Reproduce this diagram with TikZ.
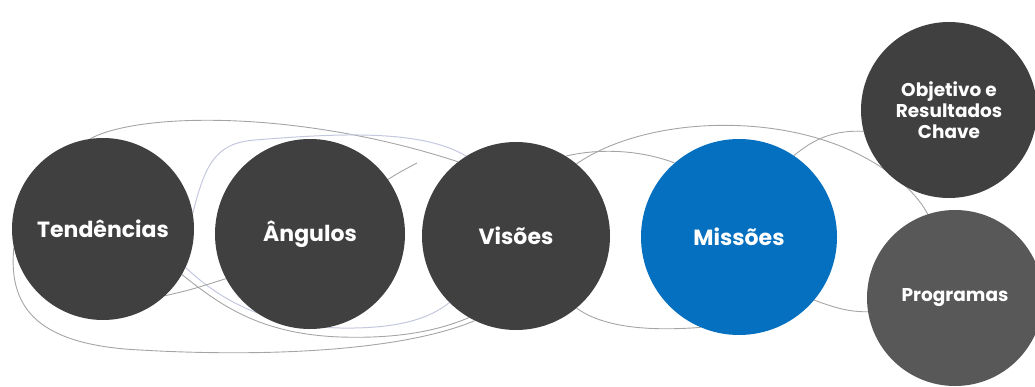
\documentclass[tikz,border=0pt]{standalone}
\usepackage{fontspec}
\setmainfont{Poppins}
\pgfdeclarelayer{background}
\pgfsetlayers{background,main}
\definecolor{darkc}{RGB}{64,64,64}
\definecolor{progc}{RGB}{88,88,88}
\definecolor{bluec}{RGB}{6,112,192}
\definecolor{linec}{RGB}{165,165,165}
\definecolor{bluel}{RGB}{196,200,222}
\tikzset{
  bubble/.style={circle, fill=darkc, text=white, font=\bfseries\fontsize{22}{24}\selectfont, inner sep=0pt, align=center},
  smallbubble/.style={bubble, font=\bfseries\fontsize{18.5}{21}\selectfont},
  link/.style={draw=linec, line width=0.9pt},
  bluelink/.style={draw=bluel, line width=1pt},
}
\begin{document}
\begin{tikzpicture}[x=1pt,y=-1pt]
\useasboundingbox (0,0) rectangle (1035,387);
\clip (0,0) rectangle (1035,387);
\node[bubble, minimum size=182pt] (t) at (103,229) {Tendências};
\node[bubble, minimum size=190pt] (a) at (310,234) {Ângulos};
\node[bubble, minimum size=188pt] (v) at (516,236) {Visões};
\node[bubble, fill=bluec, minimum size=196pt] (m) at (739,237) {Missões};
\node[smallbubble, minimum size=176pt] (o) at (949,110) {Objetivo e\\Resultados\\Chave};
\node[smallbubble, fill=progc, minimum size=176pt] (p) at (955,298) {Programas};
\coordinate (cend) at (417,163);
\begin{pgfonlayer}{background}
  % top big arc Tendências -> Visões
  \draw[link] (t.98) .. controls (140,112) and (300,110) .. (v.128);
  % bluish loop top
  \draw[bluelink] (t.10) .. controls (205,165) and (215,143) .. (255,140)
        .. controls (330,134) and (420,128) .. (v.122);
  % stub from Ângulos
  \draw[link] (a.35) .. controls (400,172) .. (cend);
  % outer bottom loop
  \draw[link] (t.192) .. controls (8,310) and (40,345) .. (140,350)
        .. controls (260,357) and (400,352) .. (v.244);
  % gray bottom curve
  \draw[link] (t.-30) .. controls (220,305) and (260,334) .. (340,337)
        .. controls (400,339) and (440,330) .. (v.240);
  % bluish bottom curve
  \draw[bluelink] (t.-25) .. controls (215,295) and (260,326) .. (340,328)
        .. controls (400,329) and (430,318) .. (v.225);
  % stub Tendências -> Ângulos
  \draw[link] (t.-47) .. controls (190,290) .. (a.208);
  % Visões -> Missões top
  \draw[link] (v.58) .. controls (600,148) and (640,150) .. (m.131);
  % Visões over Missões -> Programas
  \draw[link] (v.50) .. controls (640,120) and (760,112) .. (845,148)
        .. controls (885,165) and (915,190) .. (p.108);
  % Missões -> Objetivo
  \draw[link] (m.56) .. controls (815,138) and (835,130) .. (o.194);
  % Visões -> Missões bottom
  \draw[link] (v.-50) .. controls (600,325) and (640,332) .. (m.247);
  % Missões -> Programas
  \draw[link] (m.-40) .. controls (835,308) and (850,312) .. (p.189);
\end{pgfonlayer}
\end{tikzpicture}
\end{document}
